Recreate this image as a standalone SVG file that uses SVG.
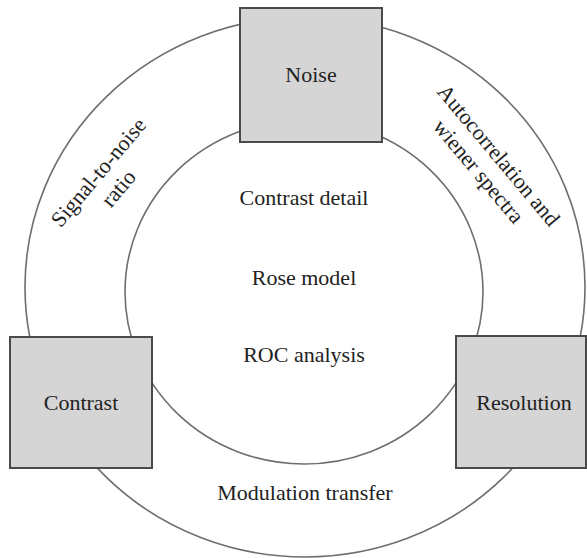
<svg xmlns="http://www.w3.org/2000/svg" width="587" height="558" viewBox="0 0 587 558">
<style>
.ring{fill:none;stroke:#6e6e6e;stroke-width:1.6}
.box{fill:#d5d5d5;stroke:#4a4a4a;stroke-width:2}
.t{font-family:"Liberation Serif","Times New Roman",serif;font-size:22px;fill:#222;text-anchor:middle}
</style>
<rect width="587" height="558" fill="#fff"/>
<g id="connectors">
<ellipse id="outer-ring" class="ring" cx="305" cy="287" rx="280" ry="270"/>
<ellipse id="inner-ring" class="ring" cx="304" cy="292" rx="179" ry="172"/>
</g>
<g id="noise"><rect class="box" x="240" y="8" width="142" height="134"/><text class="t" x="311" y="82">Noise</text></g>
<g id="contrast"><rect class="box" x="10" y="337" width="142" height="131"/><text class="t" x="81" y="410">Contrast</text></g>
<g id="resolution"><rect class="box" x="456" y="336" width="130" height="132"/><text class="t" x="524" y="410">Resolution</text></g>
<g id="inner-labels">
<text class="t" x="304" y="205">Contrast detail</text>
<text class="t" x="304" y="285">Rose model</text>
<text class="t" x="304" y="362">ROC analysis</text>
</g>
<g id="ring-labels">
<text class="t" x="305" y="500">Modulation transfer</text>
<text class="t" transform="translate(104,177) rotate(-50)">Signal-to-noise</text>
<text class="t" transform="translate(124,193) rotate(-50)">ratio</text>
<text class="t" transform="translate(493,160) rotate(50)">Autocorrelation and</text>
<text class="t" transform="translate(473,176) rotate(50)">wiener spectra</text>
</g>
</svg>
